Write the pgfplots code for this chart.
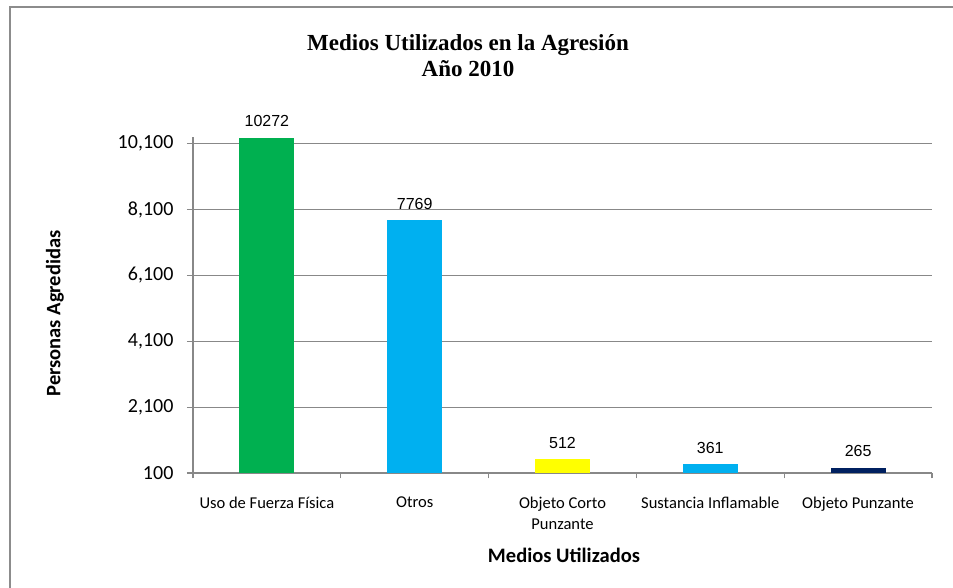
\documentclass[border=0pt]{standalone}
\usepackage{fontspec}
\setmainfont{Carlito}
\newfontfamily\tnr{Liberation Serif}
\newfontfamily\arial{Liberation Sans}
\usepackage{pgfplots}
\pgfplotsset{compat=1.18}
\definecolor{cgreen}{HTML}{00B050}
\definecolor{cblue}{HTML}{00B0F0}
\definecolor{cyellow}{HTML}{FFFF00}
\definecolor{cnavy}{HTML}{002060}
\definecolor{cgrid}{HTML}{888888}
\definecolor{cframe}{HTML}{8C8C8C}
\begin{document}
\begin{tikzpicture}
\useasboundingbox (0,0) rectangle (714.75pt,441pt);
\draw[cframe, line width=1.5pt] (7.5pt,0) -- (7.5pt,435.75pt) -- (714.75pt,435.75pt);
\begin{axis}[
  at={(144.75pt,86.25pt)}, anchor=south west,
  scale only axis, width=554.25pt, height=252pt,
  xmin=-0.5, xmax=4.5, ymin=100, ymax=10300,
  ybar, bar width=41.25pt, bar shift=0pt,
  axis x line*=bottom, axis y line*=left,
  axis line style={cgrid, line width=0.9pt, -},
  scaled y ticks=false,
  ytick={100,2100,4100,6100,8100,10100},
  yticklabels={100,{2,100},{4,100},{6,100},{8,100},{10,100}},
  ymajorgrids, grid style={cgrid, line width=0.9pt},
  tick align=outside,
  major tick length=4.5pt, minor tick length=4pt,
  tick style={cgrid, line width=0.9pt},
  yticklabel style={font=\fontsize{15}{18}\selectfont, inner sep=0pt, xshift=-10pt},
  xtick={0,1,2,3,4},
  xticklabels={Uso de Fuerza Física, Otros, {Objeto Corto\\Punzante}, Sustancia Inflamable, Objeto Punzante},
  xticklabel style={font=\fontsize{12.4}{15.75}\selectfont, align=center, inner sep=0pt, yshift=-13pt},
  major x tick style={draw=none},
  minor xtick={-0.5,0.5,1.5,2.5,3.5,4.5},
  point meta=explicit symbolic,
  nodes near coords,
  every node near coord/.append style={font=\arial\fontsize{12}{14}\selectfont, black, anchor=base, inner sep=0pt, yshift=8.25pt},
  clip=false,
]
\addplot[fill=cgreen, draw=none] coordinates {(0,10272) [10272]};
\addplot[fill=cblue, draw=none] coordinates {(1,7769) [7769]};
\addplot[fill=cyellow, draw=none] coordinates {(2,512) [512]};
\addplot[fill=cblue, draw=none] coordinates {(3,361) [361]};
\addplot[fill=cnavy, draw=none] coordinates {(4,265) [265]};
\end{axis}
\node[anchor=base, font=\tnr\bfseries\fontsize{17.25}{20}\selectfont] at (351pt,402.75pt) {Medios Utilizados en la Agresión};
\node[anchor=base, font=\tnr\bfseries\fontsize{17.25}{20}\selectfont] at (351pt,383.25pt) {Año 2010};
\node[rotate=90, font=\bfseries\fontsize{15.4}{18}\selectfont] at (41.25pt,205.9pt) {Personas Agredidas};
\node[font=\bfseries\fontsize{15.4}{18}\selectfont] at (423pt,24.75pt) {Medios Utilizados};
\end{tikzpicture}
\end{document}
